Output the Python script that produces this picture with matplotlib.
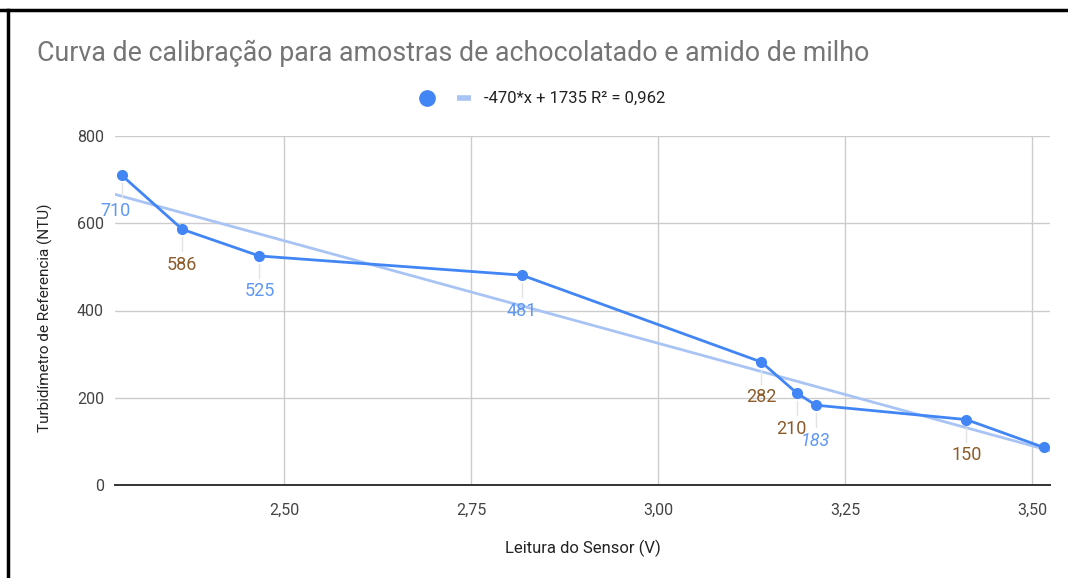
import matplotlib
matplotlib.use("Agg")
import matplotlib.pyplot as plt
from matplotlib.lines import Line2D
from matplotlib.transforms import Affine2D
import numpy as np

plt.rcParams['font.family'] = ['Roboto', 'DejaVu Sans']

# ---- data ----
sensor_v = [2.283, 2.364, 2.467, 2.818, 3.138, 3.186, 3.211, 3.412, 3.516]
ntu = [710, 586, 525, 481, 282, 210, 183, 150, 86]
point_labels = ["710", "586", "525", "481", "282", "210", "183", "150", ""]
trend_slope = -470
trend_intercept = 1735
legend_text = "-470*x + 1735 R² = 0,962"
title = "Curva de calibração para amostras de achocolatado e amido de milho"
xlabel = "Leitura do Sensor (V)"
ylabel = "Turbidímetro de Referencia (NTU)"
xticks = [2.50, 2.75, 3.00, 3.25, 3.50]
xtick_labels = ["2,50", "2,75", "3,00", "3,25", "3,50"]
yticks = [0, 200, 400, 600, 800]

# ---- styles ----
BLUE = "#4285F4"
TREND = "#a8c4f5"
LBL_BLUE = "#5e97f6"
LBL_BROWN = "#8d5b2a"
label_colors = [LBL_BLUE, LBL_BROWN, LBL_BLUE, LBL_BLUE, LBL_BROWN, LBL_BROWN, LBL_BLUE, LBL_BROWN, LBL_BLUE]
label_italic = [False, False, False, False, False, False, True, False, False]
label_dx = [-6, 0, 0, 0, 0, -6, 0, 0, 0]

W, H = 1068, 578
fig = plt.figure(figsize=(W / 100, H / 100), dpi=100)
ax = fig.add_axes([115 / W, (H - 485) / H, 935 / W, 349 / H])

ax.set_xlim(2.274, 3.524)
ax.set_ylim(0, 800)

for t in xticks:
    ax.axvline(t, color="#cccccc", lw=1, zorder=0)
for t in yticks[1:]:
    ax.axhline(t, color="#cccccc", lw=1, zorder=0)

for s in ["top", "right", "left"]:
    ax.spines[s].set_visible(False)
ax.spines["bottom"].set_color("#333333")
ax.spines["bottom"].set_linewidth(1.4)

ax.set_xticks(xticks)
ax.set_xticklabels(xtick_labels)
ax.set_yticks(yticks)
ax.tick_params(axis="both", length=0, labelsize=11.5, colors="#444444")
ax.tick_params(axis="x", pad=13)
ax.tick_params(axis="y", pad=8)

# trendline
xs = np.array([sensor_v[0] - 0.01, sensor_v[-1] + 0.01])
ax.plot(xs, trend_slope * xs + trend_intercept, color=TREND, lw=2, zorder=2,
        solid_capstyle="butt")

# series
ax.plot(sensor_v, ntu, color=BLUE, lw=2, marker="o", ms=7, zorder=3)

# data labels with leader lines
fig.canvas.draw()
for xv, yv, lab, c, it, dx in zip(sensor_v, ntu, point_labels, label_colors, label_italic, label_dx):
    if not lab:
        continue
    ax.annotate(lab, xy=(xv, yv), xytext=(dx, -35.5), textcoords="offset pixels",
                ha="center", va="center", fontsize=13, color=c,
                style="italic" if it else "normal", zorder=4)
    px, py = ax.transData.transform((xv, yv))
    seg = Line2D([0, 0], [-8, -22], color="#e3e3e3", lw=1, zorder=1,
                 transform=Affine2D().translate(px, py))
    fig.add_artist(seg)

# title
fig.text(37 / W, 1 - 53 / H, title, fontsize=19.3, color="#757575", ha="left", va="center")

# legend (manual)
fig.add_artist(Line2D([427 / W], [1 - 98 / H], marker="o", ms=11, color=BLUE,
                      transform=fig.transFigure, lw=0))
fig.add_artist(Line2D([457 / W, 471 / W], [1 - 98 / H, 1 - 98 / H], color=TREND, lw=4,
                      transform=fig.transFigure, solid_capstyle="butt"))
fig.text(484 / W, 1 - 98 / H, legend_text, fontsize=12, color="#222222", ha="left", va="center")

# axis titles
fig.text(583 / W, 1 - 548 / H, xlabel, fontsize=12, color="#222222", ha="center", va="center")
fig.text(45 / W, 1 - 318 / H, ylabel, fontsize=11, color="#222222", ha="center", va="center",
         rotation=90)

# frame border (black top and left)
fig.add_artist(Line2D([0, 1], [1 - 10 / H, 1 - 10 / H], color="black", lw=2.5, transform=fig.transFigure))
fig.add_artist(Line2D([7.5 / W, 7.5 / W], [0, 1 - 10 / H], color="black", lw=2.5, transform=fig.transFigure))

fig.savefig("out.png", dpi=100)
